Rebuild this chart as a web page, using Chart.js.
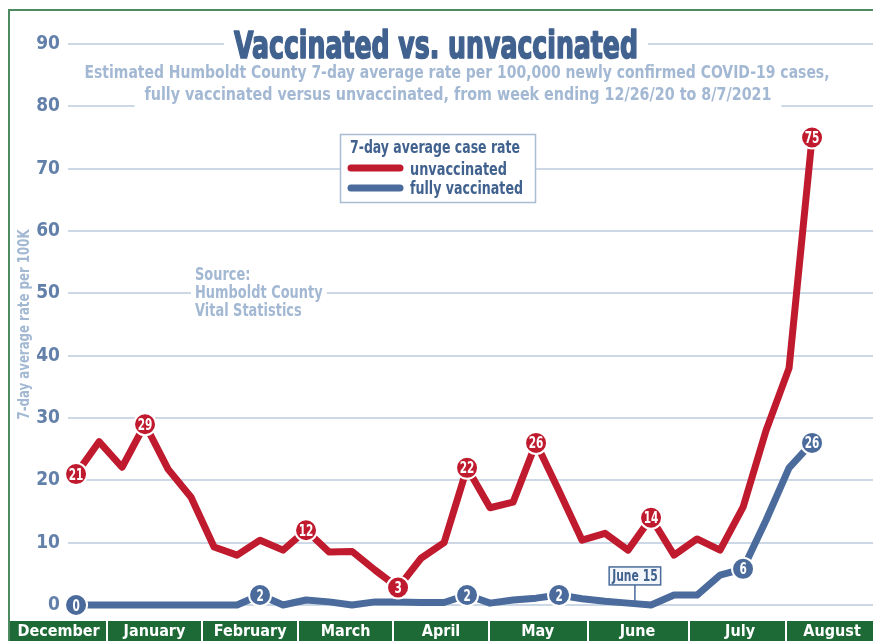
<!DOCTYPE html>
<html><head><meta charset="utf-8">
<script src="https://cdn.jsdelivr.net/npm/chart.js@4/dist/chart.umd.min.js"></script>
<style>html,body{margin:0;padding:0;background:#fff}#wrap{width:873px;height:641px}</style>
</head><body><div id="wrap"><canvas id="c" width="873" height="641"></canvas></div>
<script>
// ---- data ----
const weekEnding = ['2020-12-26','2021-01-02','2021-01-09','2021-01-16','2021-01-23','2021-01-30','2021-02-06','2021-02-13','2021-02-20','2021-02-27','2021-03-06','2021-03-13','2021-03-20','2021-03-27','2021-04-03','2021-04-10','2021-04-17','2021-04-24','2021-05-01','2021-05-08','2021-05-15','2021-05-22','2021-05-29','2021-06-05','2021-06-12','2021-06-19','2021-06-26','2021-07-03','2021-07-10','2021-07-17','2021-07-24','2021-07-31','2021-08-07'];
const unvaccinated = [21,26.2,22.1,29,21.8,17.3,9.3,8,10.4,8.8,12,8.5,8.6,5.6,2.8,7.5,10,22,15.6,16.5,26,18.3,10.4,11.5,8.8,14,8,10.6,8.8,15.7,28,38,75];
const fullyVaccinated = [0,0,0,0,0,0,0,0,1.6,0,0.8,0.5,0,0.5,0.5,0.4,0.4,1.6,0.3,0.8,1.1,1.6,1.0,0.6,0.3,0,1.6,1.6,4.8,5.8,13.6,22,26];
const unvaccinatedLabeled = [0,3,10,14,17,20,25,32];
const vaccinatedLabeled = [0,8,17,21,29,32];
const months = ['December','January','February','March','April','May','June','July','August'];
const monthCenters = [-0.76,3.41,7.57,11.72,15.87,20.07,24.41,28.87,32.87]; // in weeks from 12/26/20
const yTicks = [0,10,20,30,40,50,60,70,80,90];
const seriesNames = ['unvaccinated','fully vaccinated'];
const annotationDate = '2021-06-15';
const annotationText = 'June 15';
const titleText = 'Vaccinated vs. unvaccinated';
const subtitleLines = ['Estimated Humboldt County 7-day average rate per 100,000 newly confirmed COVID-19 cases,','fully vaccinated versus unvaccinated, from week ending 12/26/20 to 8/7/2021'];
const legendTitle = '7-day average case rate';
const sourceLines = ['Source:','Humboldt County','Vital Statistics'];
const yTitle = '7-day average rate per 100K';

// ---- style ----
const FONT = "'Liberation Sans Narrow','DejaVu Sans Condensed','Roboto Condensed',Roboto,sans-serif";
const RED = '#c01a2e', BLUE = '#4a6b9b', DARK = '#41628f', LIGHT = '#a3b8d3', GRID = '#cdd8e6', GREEN = '#1e6a37', FRAME = '#4d8a60';

function txt(ctx, s, x, y, o) {
  ctx.save();
  ctx.font = `bold ${o.size}px ${FONT}`;
  const m = ctx.measureText(s).width;
  const sx = o.width ? o.width / m : (o.sx || 1);
  const w = m * sx;
  const x0 = o.align === 'center' ? x - w / 2 : o.align === 'right' ? x - w : x;
  if (o.knock) { ctx.fillStyle = '#fff'; ctx.fillRect(x0 - o.knock, y - o.size * 0.9, w + 2 * o.knock, o.size * 1.5); }
  ctx.translate(x0, y); ctx.scale(sx, 1);
  ctx.textAlign = 'left'; ctx.textBaseline = 'alphabetic';
  ctx.fillStyle = o.color; ctx.fillText(s, 0, 0);
  if (o.stroke) { ctx.strokeStyle = o.color; ctx.lineWidth = o.stroke; ctx.lineJoin = 'round'; ctx.strokeText(s, 0, 0); }
  ctx.restore();
  return { x0, w };
}

const weekIndex = d => (new Date(d) - new Date(weekEnding[0])) / (7 * 864e5);

const decor = {
  id: 'decor',
  beforeDraw(chart) {
    const { ctx, chartArea: ca, width, height, scales: { x } } = chart;
    ctx.save();
    ctx.fillStyle = '#fff'; ctx.fillRect(0, 0, width, height);
    // frame
    ctx.strokeStyle = FRAME; ctx.lineWidth = 2;
    ctx.beginPath(); ctx.moveTo(9, height); ctx.lineTo(9, 10); ctx.lineTo(width, 10); ctx.stroke();
    // month band
    const top = ca.bottom + 16;
    ctx.fillStyle = GREEN; ctx.fillRect(10, top, width - 10, height - top);
    ctx.strokeStyle = '#fff'; ctx.lineWidth = 2;
    for (let i = 0; i < monthCenters.length - 1; i++) {
      const px = Math.round(x.getPixelForValue((monthCenters[i] + monthCenters[i + 1]) / 2));
      ctx.beginPath(); ctx.moveTo(px, top); ctx.lineTo(px, height); ctx.stroke();
    }
    ctx.restore();
    // y-axis title (condensed)
    ctx.save();
    ctx.translate(29, (ca.top + ca.bottom) / 2);
    ctx.rotate(-Math.PI / 2);
    txt(ctx, yTitle, 0, 0, { size: 16, color: LIGHT, width: 190, align: 'center' });
    ctx.restore();
  },
  beforeDatasetsDraw(chart) {
    const { ctx, scales: { x, y } } = chart;
    // title
    txt(ctx, titleText, 436, 58, { size: 37, color: DARK, width: 404, align: 'center', knock: 10, stroke: 1.6 });
    txt(ctx, subtitleLines[0], 457, 78, { size: 18, color: LIGHT, width: 745, align: 'center', knock: 8 });
    txt(ctx, subtitleLines[1], 458, 100, { size: 18, color: LIGHT, width: 627, align: 'center', knock: 10 });
    // legend
    ctx.save();
    ctx.fillStyle = '#fff'; ctx.fillRect(340, 134, 195, 68);
    ctx.strokeStyle = '#a9bcd3'; ctx.lineWidth = 1.5; ctx.strokeRect(340.5, 134.5, 195, 68);
    ctx.restore();
    txt(ctx, legendTitle, 350, 153, { size: 17, color: DARK, width: 170 });
    const cols = [RED, BLUE];
    [[168, 175, 97], [188, 194, 113]].forEach(([ly, by, tw], i) => {
      ctx.save(); ctx.strokeStyle = cols[i]; ctx.lineWidth = 7; ctx.lineCap = 'round';
      ctx.beginPath(); ctx.moveTo(351, ly); ctx.lineTo(400, ly); ctx.stroke(); ctx.restore();
      txt(ctx, chart.data.datasets[i].label, 410, by, { size: 17, color: DARK, width: tw });
    });
    // source
    sourceLines.forEach((s, i) => txt(ctx, s, 195, 280 + i * 18, { size: 18, color: LIGHT, sx: 0.8, knock: 4 }));
    // June 15 annotation
    const ai = weekIndex(annotationDate);
    const i0 = Math.floor(ai), f = ai - i0;
    const av = fullyVaccinated[i0] * (1 - f) + fullyVaccinated[i0 + 1] * f;
    const ax = x.getPixelForValue(ai) - 3, ay = y.getPixelForValue(av);
    ctx.save();
    ctx.font = `bold 15px ${FONT}`;
    const tw = ctx.measureText(annotationText).width * 0.8 + 6;
    const bx = ax - tw / 2, bb = ay - 19, bh = 18;
    ctx.strokeStyle = BLUE; ctx.lineWidth = 1.5;
    ctx.beginPath(); ctx.moveTo(ax, bb); ctx.lineTo(ax, ay); ctx.stroke();
    ctx.fillStyle = '#f3f6fa'; ctx.fillRect(bx, bb - bh, tw, bh);
    ctx.strokeRect(bx, bb - bh, tw, bh);
    ctx.restore();
    txt(ctx, annotationText, ax, bb - 4, { size: 15, color: DARK, sx: 0.8, align: 'center' });
  },
  afterDatasetsDraw(chart) {
    const { ctx } = chart;
    [unvaccinatedLabeled, vaccinatedLabeled].forEach((lab, di) => {
      const meta = chart.getDatasetMeta(di);
      lab.forEach(i => {
        const p = meta.data[i];
        const v = chart.data.datasets[di].data[i].y;
        ctx.save();
        ctx.font = `bold 15px ${FONT}`;
        const s = String(Math.round(v));
        const w = ctx.measureText(s).width * 0.78;
        ctx.translate(p.x - w / 2, p.y + 5.5); ctx.scale(0.78, 1);
        ctx.fillStyle = '#fff'; ctx.textAlign = 'left'; ctx.textBaseline = 'alphabetic';
        ctx.fillText(s, 0, 0);
        ctx.restore();
      });
    });
  }
};

const mk = (vals, col, lab, name) => ({
  label: name,
  data: vals.map((v, i) => ({ x: i, y: v })),
  borderColor: col, backgroundColor: col, borderWidth: 7,
  borderJoinStyle: 'round', borderCapStyle: 'round', tension: 0,
  pointRadius: c => lab.includes(c.dataIndex) ? 11 : 0,
  pointHoverRadius: c => lab.includes(c.dataIndex) ? 11 : 0,
  pointBackgroundColor: col, pointBorderColor: '#fff', pointBorderWidth: 2,
  clip: false
});

new Chart(document.getElementById('c'), {
  type: 'line',
  data: { datasets: [
    mk(unvaccinated, RED, unvaccinatedLabeled, seriesNames[0]),
    mk(fullyVaccinated, BLUE, vaccinatedLabeled, seriesNames[1])
  ] },
  options: {
    responsive: false, animation: false, devicePixelRatio: 1,
    layout: { autoPadding: false, padding: { top: 44, left: 0, right: 0, bottom: 0 } },
    plugins: { legend: { display: false }, tooltip: { enabled: false } },
    scales: {
      x: {
        type: 'linear', min: -0.35, max: 34.65,
        afterBuildTicks: s => { s.ticks = monthCenters.map(v => ({ value: v })); },
        ticks: { callback: (v, i) => months[i], color: '#fff', font: { family: FONT, size: 16, weight: 'bold' }, padding: 17, autoSkip: false, maxRotation: 0 },
        grid: { display: false, drawTicks: false }, border: { display: false },
        afterFit: s => { s.height = 36; s.paddingLeft = 0; s.paddingRight = 0; }
      },
      y: {
        min: 0, max: 90,
        afterBuildTicks: s => { s.ticks = yTicks.map(v => ({ value: v })); },
        ticks: { color: '#6280a9', font: { family: FONT, size: 19, weight: 'bold' }, padding: 8 },
        grid: { color: GRID, lineWidth: 2, drawTicks: false }, border: { display: false },
        title: { display: false },
        afterFit: s => { s.width = 68; s.paddingTop = 0; s.paddingBottom = 0; }
      }
    }
  },
  plugins: [decor]
});
</script></body></html>
